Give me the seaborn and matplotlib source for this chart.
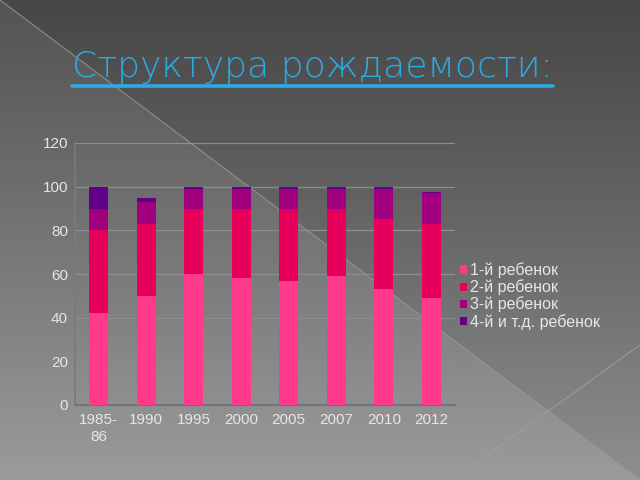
import numpy as np
import pandas as pd
import matplotlib
matplotlib.use("Agg")
import matplotlib.pyplot as plt
from matplotlib.lines import Line2D
from matplotlib.patches import Patch
import seaborn as sns

# ---- data ----
categories = ["1985-\n86", "1990", "1995", "2000", "2005", "2007", "2010", "2012"]
first_child = [42, 50, 60, 58, 57, 59, 53, 49]
second_child = [38, 33, 30, 32, 33, 31, 32, 34]
third_child = [10, 10, 9, 9, 9, 9, 14, 14]
fourth_child = [10, 2, 1, 1, 1, 1, 1, 0.5]
series_names = ["1-й ребенок", "2-й ребенок", "3-й ребенок", "4-й и т.д. ребенок"]
title_text = "Структура рождаемости:"

colors = ["#FF3A8C", "#E6005C", "#A0007E", "#62008C"]

sns.set_theme(style="white")
plt.rcParams["font.family"] = ["Liberation Sans", "DejaVu Sans"]

fig = plt.figure(figsize=(6.4, 4.8), dpi=100)

# ---- background ----
bg = fig.add_axes([0, 0, 1, 1], zorder=-10)
H, W = 480, 640
yy, xx = np.mgrid[0:H, 0:W]
base = 0.28 + (0.56 - 0.28) * (yy / H) ** 1.1
tri = (yy > 0.75 * xx)  # lower-left of main diagonal
base = base + 0.05 * tri
img = np.dstack([base, base, base])
bg.imshow(np.clip(img, 0, 1), extent=[0, W, H, 0], aspect="auto")
bg.plot([0, 640], [0, 480], color="#9a9a9a", lw=0.8, alpha=0.8)
bg.plot([453, 640], [480, 345], color="#a0a0a0", lw=0.8, alpha=0.8)
bg.set_xlim(0, W)
bg.set_ylim(H, 0)
bg.axis("off")

# ---- title ----
title = fig.text(72 / 640, 1 - 77 / 480, title_text, color="#2BAAE4", fontsize=26,
                 family=["DejaVu Sans"], weight="light", ha="left", va="baseline")
fig.canvas.draw()
ext = title.get_window_extent()
x0 = ext.x0 / 640
x1 = ext.x1 / 640
fig.add_artist(Line2D([x0, x1], [1 - 86 / 480, 1 - 86 / 480],
                      color="#2BAAE4", lw=2.6, transform=fig.transFigure))

# ---- chart ----
ax = fig.add_axes([75 / 640, 1 - 405 / 480, 380 / 640, 262 / 480])
ax.patch.set_alpha(0)

df = pd.DataFrame({"cat": categories, "s1": first_child, "s2": second_child,
                   "s3": third_child, "s4": fourth_child})
cum = df[["s1", "s2", "s3", "s4"]].cumsum(axis=1)
for i in range(3, -1, -1):
    sns.barplot(x=df["cat"], y=cum.iloc[:, i], color=colors[i], ax=ax,
                width=0.39, saturation=1, order=categories, zorder=3,
                linewidth=0, edgecolor="none")

ax.set_xlim(-0.5, 7.5)
ax.set_ylim(0, 120)
ax.set_yticks(range(0, 121, 20))
ax.set_xlabel("")
ax.set_ylabel("")
ax.grid(axis="y", color="#8e8e8e", lw=0.9, zorder=0)
ax.set_axisbelow(True)
for s in ["top", "right"]:
    ax.spines[s].set_visible(False)
ax.spines["left"].set_color("#7a7a7a")
ax.spines["bottom"].set_color("#6e6e6e")
ax.tick_params(axis="both", colors="#e6e6e6", labelsize=11, length=0, pad=6)
ax.tick_params(axis="y", pad=5)

handles = [Patch(facecolor=c, edgecolor="none") for c in colors]
leg = fig.legend(handles, series_names, loc="upper left",
                 bbox_to_anchor=(446 / 640, 1 - 248 / 480), frameon=False,
                 fontsize=11.5, handlelength=0.4, handleheight=0.4,
                 handletextpad=0.2, labelspacing=0.08)
for t in leg.get_texts():
    t.set_color("#e6e6e6")

fig.savefig("out.png", dpi=100)
